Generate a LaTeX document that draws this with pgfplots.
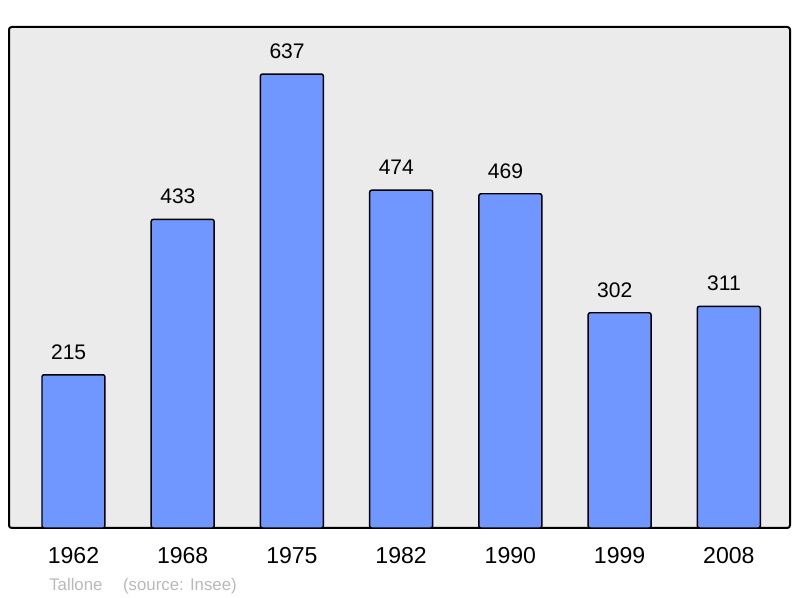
\documentclass[border=0pt]{standalone}
\usepackage{pgfplots}
\pgfplotsset{compat=1.18}
\usepackage{fontspec}
\setmainfont{Liberation Sans}
\definecolor{barblue}{RGB}{112,150,255}
\definecolor{bggray}{RGB}{235,235,235}
\definecolor{notegray}{RGB}{185,185,185}
\begin{document}
\begin{tikzpicture}[x=0.75pt,y=0.75pt]
\path[use as bounding box] (0,0) rectangle (800,598);
\begin{axis}[
  at={(9*0.75pt,70*0.75pt)}, anchor=south west,
  scale only axis, width=781*0.75pt, height=501*0.75pt,
  ymin=0, ymax=703,
  xmin=-0.59, xmax=6.56,
  /pgf/number format/assume math mode=true,
  axis background/.style={fill=bggray},
  axis line style={line width=1.5pt, rounded corners=2pt},
  ytick=\empty,
  xtick=data,
  xticklabels={1962,1968,1975,1982,1990,1999,2008},
  xticklabel style={font=\fontsize{17.3}{19}\selectfont, yshift=-11pt},
  major tick length=0pt,
  ybar, bar width=0.576,
  nodes near coords,
  every node near coord/.append style={font=\fontsize{15.8}{17}\selectfont, anchor=center, yshift=17pt, xshift=-3.6pt, black},
  clip=false,
]
\addplot[fill=barblue, draw=black, line width=1.1pt, rounded corners=1.5pt] coordinates {
(0,215) (1,433) (2,637) (3,474) (4,469) (5,302) (6,311)};
\end{axis}
\node[anchor=west, text=notegray, font=\fontsize{12.6}{14}\selectfont, inner sep=0pt] at (49,12) {Tallone\hspace{15.5pt}(source: Insee)};
\end{tikzpicture}
\end{document}
